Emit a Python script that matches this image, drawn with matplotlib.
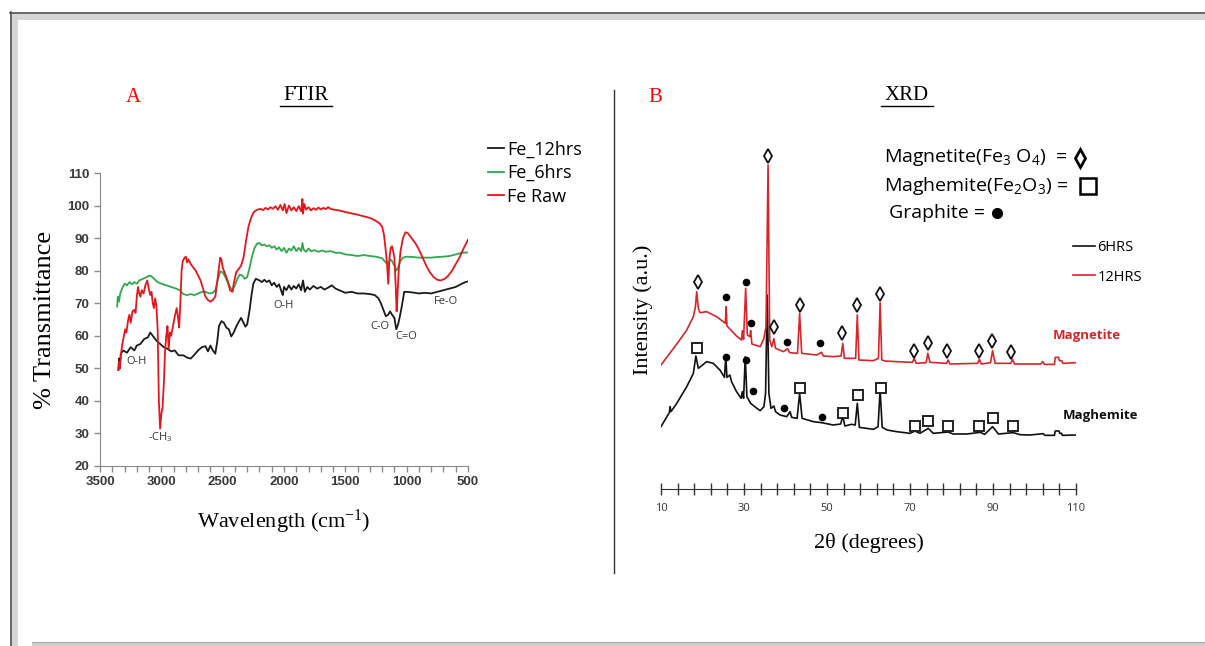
import numpy as np
import matplotlib
matplotlib.use("Agg")
import matplotlib.pyplot as plt
from matplotlib.patches import Rectangle

plt.rcParams["mathtext.default"] = "regular"

W, H = 1205, 646
SERIF = ["Liberation Serif", "DejaVu Serif"]
SANS = ["Open Sans", "DejaVu Sans"]
BOLD_TICKS = ["Liberation Sans", "DejaVu Sans"]

# ---------------- FTIR data (wavenumber, % transmittance) ----------------
fe_12hrs = [
    (3350, 49.5), (3345, 53), (3340, 50), (3330, 54.5), (3310, 55.5), (3280, 54.8),
    (3250, 56.5), (3220, 55.5), (3200, 57), (3170, 57.5), (3140, 59), (3110, 59.5),
    (3090, 61), (3070, 60), (3040, 58.5), (3010, 57.5), (2980, 56.5), (2950, 56),
    (2920, 55.2), (2890, 55.5), (2860, 54), (2820, 54), (2790, 53.3), (2760, 53),
    (2730, 54.2), (2700, 55.5), (2670, 56.5), (2640, 56.8), (2620, 55.2), (2600, 57),
    (2580, 55.5), (2560, 54.5), (2545, 58), (2530, 63), (2510, 64.5), (2490, 64),
    (2470, 62.5), (2450, 62), (2430, 59.8), (2410, 61), (2390, 62.8), (2370, 64.2),
    (2350, 65.5), (2330, 64), (2315, 62.8), (2300, 63.5), (2280, 68), (2265, 72.5),
    (2250, 76), (2230, 77.5), (2200, 77), (2180, 76.5), (2160, 77.2), (2140, 76.5),
    (2120, 77), (2100, 75.5), (2080, 76.3), (2060, 75), (2040, 75.8), (2020, 73.5),
    (2010, 72.5), (2000, 75), (1980, 74), (1960, 75.5), (1940, 74.2), (1920, 75.3),
    (1900, 74.5), (1880, 75.8), (1860, 74), (1845, 77), (1830, 73.5), (1810, 75),
    (1790, 74.2), (1760, 75.3), (1730, 74.5), (1700, 75), (1670, 74.2), (1640, 74.8),
    (1610, 75.5), (1580, 74.5), (1550, 74), (1500, 73.2), (1450, 73.5), (1400, 73),
    (1350, 73), (1300, 72.8), (1260, 72.5), (1230, 71.5), (1210, 70), (1190, 68),
    (1170, 66), (1150, 66.5), (1135, 67.5), (1120, 66.5), (1100, 65.5), (1085, 62),
    (1070, 63.5), (1055, 66), (1040, 69), (1020, 73.5), (1000, 73.5), (950, 73.3),
    (900, 73), (850, 73.2), (800, 73), (750, 73.5), (700, 74), (650, 74.5),
    (600, 75), (550, 76), (520, 76.5), (500, 76.7),
]
fe_6hrs = [
    (3360, 69), (3355, 72), (3345, 70.5), (3335, 73), (3320, 74.5), (3300, 76),
    (3280, 75.5), (3260, 76.5), (3240, 75.8), (3220, 76.5), (3200, 76), (3180, 77),
    (3150, 77.5), (3120, 78), (3100, 78.5), (3080, 78.3), (3060, 77.5), (3030, 76.5),
    (3000, 76), (2960, 75.5), (2920, 75), (2880, 74.5), (2850, 74), (2820, 72.8),
    (2790, 72.5), (2760, 72.8), (2730, 72.5), (2700, 73), (2670, 73.5), (2640, 73.5),
    (2610, 73), (2580, 73.2), (2560, 74), (2540, 77), (2520, 79.8), (2500, 79.5),
    (2480, 78.2), (2460, 76.5), (2440, 75), (2420, 74), (2400, 75.5), (2380, 77.5),
    (2360, 78.8), (2340, 78.5), (2320, 77.5), (2300, 78), (2280, 81), (2260, 84.5),
    (2240, 87), (2220, 88.3), (2200, 88.5), (2180, 87.8), (2160, 88), (2140, 87.5),
    (2120, 87.8), (2100, 87), (2080, 87.5), (2060, 86.5), (2040, 87.2), (2020, 86),
    (2000, 87), (1980, 85.5), (1960, 86.8), (1940, 86.2), (1920, 87.5), (1900, 86),
    (1880, 87), (1860, 86), (1850, 88.5), (1840, 86.5), (1820, 85.8), (1800, 86.8),
    (1780, 86), (1750, 86.3), (1720, 85.8), (1690, 86.2), (1660, 85.8), (1620, 86),
    (1580, 85.5), (1540, 85.5), (1500, 85), (1450, 84.8), (1400, 84.5), (1350, 84.8),
    (1300, 84.5), (1250, 84.3), (1200, 83.8), (1170, 82.5), (1150, 82), (1135, 83.5),
    (1120, 83), (1100, 81.5), (1085, 80), (1070, 81), (1050, 83), (1030, 84),
    (1000, 84.3), (950, 84.2), (900, 84), (850, 84), (800, 84), (750, 84.2),
    (700, 84.3), (650, 84.5), (600, 85), (550, 85.5), (500, 85.6),
]
fe_raw = [
    (3350, 49.5), (3345, 52), (3338, 50), (3330, 54), (3320, 57), (3305, 60),
    (3295, 62), (3285, 61), (3270, 65), (3260, 66.5), (3250, 64), (3235, 67.5),
    (3220, 68), (3210, 67), (3200, 72), (3190, 75), (3180, 73), (3170, 72),
    (3160, 74), (3145, 73), (3130, 75.5), (3115, 77), (3100, 74), (3090, 72.5),
    (3080, 73.5), (3070, 70), (3060, 68.5), (3050, 71.5), (3040, 69), (3030, 62),
    (3020, 40), (3010, 31.5), (3000, 36), (2990, 38), (2980, 45), (2970, 55),
    (2960, 60), (2950, 63), (2940, 56), (2930, 61), (2920, 60), (2905, 63),
    (2890, 66), (2875, 68.5), (2865, 66), (2855, 62.5), (2845, 70), (2835, 80),
    (2825, 83), (2810, 84), (2800, 84.3), (2790, 82.5), (2780, 83.5), (2760, 82),
    (2740, 81), (2720, 80), (2700, 78.5), (2680, 77), (2660, 74.5), (2640, 72),
    (2620, 71), (2600, 70.5), (2580, 71), (2560, 72), (2540, 78), (2520, 84),
    (2510, 83.5), (2500, 81), (2480, 79), (2460, 77), (2440, 74), (2420, 73.5),
    (2410, 76), (2390, 79.5), (2370, 80.5), (2350, 81.5), (2330, 84), (2310, 89),
    (2290, 93.5), (2270, 96), (2250, 97.8), (2230, 98.5), (2210, 98.8), (2190, 99),
    (2170, 98.6), (2150, 99.3), (2130, 98.8), (2110, 99.5), (2090, 99), (2070, 99.8),
    (2050, 98.7), (2030, 100.2), (2010, 98.5), (1995, 100.5), (1980, 97.7), (1960, 100),
    (1940, 98.5), (1920, 99.5), (1900, 98.3), (1880, 99.8), (1860, 98.2), (1850, 102),
    (1845, 97.5), (1835, 100.5), (1820, 98.8), (1800, 99.5), (1780, 98.5), (1760, 99.2),
    (1740, 98.7), (1720, 99.4), (1700, 98.8), (1680, 99.3), (1660, 98.9), (1640, 99.5),
    (1620, 99), (1600, 98.8), (1550, 98.5), (1500, 98), (1450, 97.6), (1400, 97.2),
    (1350, 96.7), (1300, 96.2), (1260, 95.5), (1220, 94.5), (1200, 93.5), (1185, 91),
    (1170, 86), (1160, 82), (1150, 76), (1140, 84), (1130, 87), (1120, 87.5),
    (1110, 86), (1100, 84), (1090, 76), (1082, 67.5), (1075, 72), (1065, 80),
    (1050, 86), (1030, 90), (1010, 91.8), (990, 91.5), (960, 90), (930, 88.5),
    (900, 86.5), (870, 84), (840, 81.5), (810, 79.5), (780, 78), (750, 77.2),
    (720, 77), (690, 77.5), (660, 78.5), (630, 80), (600, 82), (570, 84),
    (540, 86.5), (500, 89.5),
]
ftir_series = [("Fe_12hrs", fe_12hrs, "#1a1a1a"),
               ("Fe_6hrs", fe_6hrs, "#2fa84f"),
               ("Fe Raw", fe_raw, "#e3171b")]
ftir_notes = [("O-H", 3198, 52.0), ("-CH$_3$", 3011, 29.0), ("O-H", 2000, 69.2),
              ("C-O", 1217, 62.8), ("C=O", 1005, 59.7), ("Fe-O", 679, 70.4)]

# ---------------- XRD data (2theta, intensity a.u.) ----------------
xrd_6hrs = [
    (10.0, 187), (12.0, 229), (12.2, 247), (12.4, 232), (13.8, 257), (16.2, 307),
    (17.8, 347), (18.4, 399), (19.0, 362), (21.0, 382), (22.6, 377), (24.2, 357),
    (25.3, 335), (25.6, 397), (25.9, 335), (26.6, 342), (27.0, 322), (28.2, 292),
    (29.3, 272), (29.6, 292), (29.9, 272), (30.3, 397), (30.7, 277), (31.6, 257),
    (33.1, 242), (33.9, 235), (34.8, 247), (35.2, 287), (35.6, 582), (36.0, 287),
    (36.5, 242), (37.2, 249), (37.6, 232), (38.7, 222), (40.3, 217), (41.1, 232),
    (41.5, 215), (42.8, 212), (43.4, 287), (44.0, 212), (46.7, 202), (48.7, 199),
    (51.5, 192), (53.3, 195), (53.8, 219), (54.3, 189), (55.9, 194), (56.8, 192),
    (57.3, 257), (57.8, 185), (61.2, 179), (62.3, 187), (62.8, 297), (63.3, 185),
    (64.5, 177), (66.8, 172), (70.0, 167), (71.2, 174), (72.4, 167), (74.4, 182),
    (75.6, 167), (79.2, 171), (80.4, 165), (83.7, 165), (86.9, 170), (88.0, 164),
    (89.9, 187), (91.3, 165), (94.9, 169), (96.5, 163), (98.9, 162), (102.1, 166),
    (102.5, 161), (104.8, 161), (105.0, 174), (105.9, 174), (106.1, 167), (106.5, 167),
    (106.7, 161), (110.0, 162),
]
xrd_12hrs = [
    (10.0, 372), (13.8, 435), (16.2, 477), (17.8, 517), (18.3, 547), (18.6, 592),
    (19.0, 542), (19.4, 529), (21.0, 532), (23.4, 517), (25.0, 502), (25.5, 497),
    (25.7, 547), (25.9, 489), (28.2, 459), (29.4, 447), (29.6, 475), (29.9, 449),
    (30.4, 602), (30.8, 462), (31.4, 457), (31.6, 475), (31.9, 435), (33.9, 427),
    (34.8, 452), (35.3, 487), (35.8, 972), (36.2, 447), (36.7, 427), (37.2, 451),
    (37.6, 422), (39.5, 412), (40.5, 421), (41.0, 409), (42.9, 407), (43.4, 527),
    (43.9, 407), (47.5, 402), (48.7, 410), (49.1, 399), (51.5, 397), (53.4, 399),
    (53.8, 437), (54.2, 392), (56.9, 392), (57.3, 522), (57.7, 387), (61.2, 385),
    (62.4, 392), (62.8, 559), (63.2, 387), (64.0, 384), (66.8, 382), (70.6, 380),
    (71.0, 392), (71.5, 377), (73.9, 379), (74.3, 407), (74.8, 380), (78.8, 377),
    (79.2, 387), (79.6, 375), (86.3, 377), (86.7, 389), (87.2, 375), (89.4, 379),
    (89.9, 415), (90.5, 377), (94.3, 377), (94.7, 389), (95.2, 375), (101.5, 375),
    (102.0, 382), (102.4, 374), (104.8, 374), (105.0, 395), (105.8, 395), (106.0, 385),
    (106.6, 385), (106.8, 377), (110.0, 379),
]
magnetite_pk = [(18.8, 622), (35.9, 999), (37.3, 485), (43.5, 552), (53.5, 467),
                (57.3, 552), (62.8, 584), (71.0, 414), (74.4, 437), (79.0, 414),
                (86.6, 414), (89.8, 444), (94.3, 412)]
graphite_pk_12 = [(25.7, 575), (30.4, 622), (31.7, 499), (40.3, 440), (48.2, 437)]
maghemite_pk = [(18.7, 422), (43.4, 304), (53.9, 229), (57.4, 281), (62.9, 303),
                (71.2, 189), (74.4, 204), (79.1, 189), (86.7, 189), (90.1, 214),
                (94.9, 189)]
graphite_pk_6 = [(25.6, 396), (30.4, 387), (32.1, 293), (39.6, 244), (48.7, 215)]

fig = plt.figure(figsize=(W / 100, H / 100), dpi=100)

# page-like frame and headings drawn on a full-figure overlay in pixel units
bg = fig.add_axes([0, 0, 1, 1], zorder=-1)
bg.set_xlim(0, W)
bg.set_ylim(H, 0)
bg.axis("off")
bg.add_patch(Rectangle((10, 12), W, 8, facecolor="#d6d6d6", edgecolor="none"))
bg.add_patch(Rectangle((10, 12), 8, H, facecolor="#d6d6d6", edgecolor="none"))
bg.plot([10.5, 10.5], [12, H], color="#555555", lw=1.2)
bg.plot([10, W], [12.5, 12.5], color="#555555", lw=1.2)
bg.add_patch(Rectangle((32, 642), W, 6, facecolor="#cfcfcf", edgecolor="none"))
bg.plot([32, W], [642, 642], color="#aaaaaa", lw=0.8)
bg.plot([614, 614], [90, 573], color="#333333", lw=1.0)

for letter, lx, title, tx in [("A", 133, "FTIR", 306), ("B", 655, "XRD", 907)]:
    bg.text(lx, 98, letter, color="red", fontsize=15, family=SERIF, ha="center", va="center")
    bg.text(tx, 96, title, color="black", fontsize=15, family=SERIF, ha="center", va="center")
    bg.plot([tx - 26, tx + 26], [106, 106], color="black", lw=1.0)

# ---------------- FTIR panel ----------------
ax1 = fig.add_axes([100 / W, 1 - 466 / H, 368 / W, 293 / H])
ax1.patch.set_alpha(0)
for label, pts, color in ftir_series:
    wn, tr = np.array(pts).T
    ax1.plot(wn, tr, color=color, lw=1.3, label=label)
ax1.set_xlim(3500, 500)
ax1.set_ylim(20, 110)
ax1.set_xticks(np.arange(3500, 499, -500))
ax1.set_xticks(np.arange(3500, 499, -100), minor=True)
ax1.set_yticks(np.arange(20, 111, 10))
for side in ["top", "right"]:
    ax1.spines[side].set_visible(False)
for side in ["left", "bottom"]:
    ax1.spines[side].set_color("#8a8a8a")
ax1.tick_params(which="both", direction="out", color="#8a8a8a", length=4, width=1)
ax1.tick_params(labelsize=9.5, labelcolor="#3a3a3a")
for lab in ax1.get_xticklabels() + ax1.get_yticklabels():
    lab.set_family(BOLD_TICKS)
    lab.set_fontweight("bold")
for txt, x, y in ftir_notes:
    ax1.text(x, y, txt, fontsize=8, color="#333333", family=SANS, ha="center", va="center")
ax1.set_ylabel("% Transmittance", fontsize=19, family=SERIF, labelpad=8)
ax1.set_xlabel("Wavelength (cm$^{-1}$)", fontsize=16, family=SERIF, labelpad=14)
ax1.legend(loc="upper left", bbox_to_anchor=(1.035, 1.135), frameon=False,
           prop={"family": SANS, "size": 13}, handlelength=0.9, handletextpad=0.15,
           labelspacing=0.3, borderaxespad=0)

# ---------------- XRD panel ----------------
ax2 = fig.add_axes([661 / W, 1 - 489 / H, 415 / W, 359 / H])
ax2.patch.set_alpha(0)
for pts, color, label in [(xrd_6hrs, "#111111", "6HRS"), (xrd_12hrs, "#d7262b", "12HRS")]:
    tt, inten = np.array(pts).T
    ax2.plot(tt, inten, color=color, lw=1.2, label=label)
mx, my = np.array(magnetite_pk).T
ax2.plot(mx, my, ls="none", marker="d", ms=7, mfc="white", mec="#111111", mew=1.3)
sx, sy = np.array(maghemite_pk).T
ax2.plot(sx, sy, ls="none", marker="s", ms=7.5, mfc="white", mec="#222222", mew=1.4)
for pk in (graphite_pk_12, graphite_pk_6):
    gx, gy = np.array(pk).T
    ax2.plot(gx, gy, ls="none", marker="o", ms=4.5, color="black")
ax2.set_xlim(10, 110)
ax2.set_ylim(0, 1077)
ax2.set_xticks(np.arange(10, 111, 20))
ax2.set_xticks(np.arange(10, 111, 4), minor=True)
ax2.set_yticks([])
for side in ["top", "right", "left"]:
    ax2.spines[side].set_visible(False)
ax2.spines["bottom"].set_color("#333333")
ax2.tick_params(which="both", direction="inout", length=8, width=1, color="#333333")
ax2.tick_params(axis="x", labelsize=8, labelcolor="#333333", pad=6)
for lab in ax2.get_xticklabels():
    lab.set_family(SANS)
ax2.set_xlabel("2θ (degrees)", fontsize=16, family=SERIF, labelpad=14)
ax2.set_ylabel("Intensity (a.u.)", fontsize=16, family=SERIF, labelpad=6)
ax2.legend(loc="upper left", bbox_to_anchor=(0.978, 0.71), frameon=False,
           prop={"family": SANS, "size": 10.5}, handlelength=1.5, handletextpad=0.2,
           labelspacing=1.0, borderaxespad=0)

# phase key and curve tags (figure pixel positions)
bg.text(884, 158, "Magnetite(Fe$_3$ O$_4$)  =", fontsize=14, family=SANS, va="center")
bg.plot([1080], [158], marker="d", ms=9, mfc="white", mec="black", mew=2)
bg.text(884, 186, "Maghemite(Fe$_2$O$_3$) =", fontsize=14, family=SANS, va="center")
bg.plot([1088], [186], marker="s", ms=11, mfc="white", mec="black", mew=1.8)
bg.text(889, 213, "Graphite =", fontsize=14, family=SANS, va="center")
bg.plot([997], [213], marker="o", ms=7, color="black")
bg.text(1053, 336, "Magnetite", fontsize=9.5, fontweight="bold", color="#d7262b",
        family=SANS, va="center")
bg.text(1063, 415, "Maghemite", fontsize=9.5, fontweight="bold", color="#111111",
        family=SANS, va="center")

fig.savefig("out.png", dpi=100, facecolor="white")
